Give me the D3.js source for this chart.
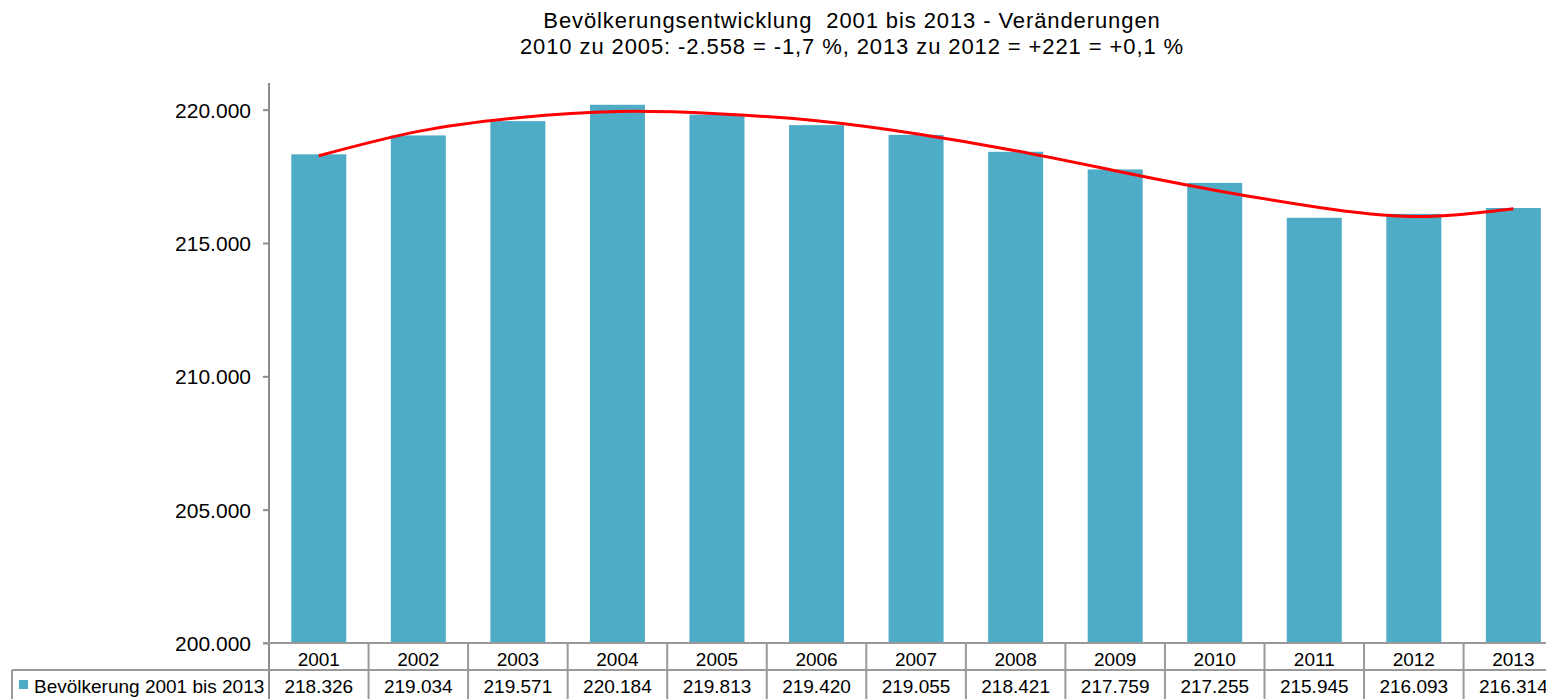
<!DOCTYPE html>
<meta charset="utf-8">
<style>
    body { margin: 0; background: #fff; }
    svg { font-family: "Liberation Sans", Arial, sans-serif; }
    .title text { font-size: 22px; letter-spacing: 0.9px; fill: #000; white-space: pre; }
    .y.axis text { font-size: 21px; fill: #000; }
    .y.axis path, .y.axis line { stroke: #8c8c8c; stroke-width: 2; }
    .bar { fill: #4facc6; }
    .trend { fill: none; stroke: #ff0000; stroke-width: 3; }
    .grid line { stroke: #999; stroke-width: 2; }
    .table text { font-size: 19px; fill: #000; }
</style>
<body>
<script src="https://cdnjs.cloudflare.com/ajax/libs/d3/7.8.5/d3.min.js"></script>
<script>

    var years = ["2001", "2002", "2003", "2004", "2005", "2006", "2007",
                 "2008", "2009", "2010", "2011", "2012", "2013"];
    var population = [218326, 219034, 219571, 220184, 219813, 219420, 219055,
                      218421, 217759, 217255, 215945, 216093, 216314];
    // polynomial trend line at each year
    var trend = [218270, 219185, 219700, 219935, 219850, 219585, 219100,
                 218460, 217710, 216980, 216360, 215995, 216285];
    var yTicks = [200000, 205000, 210000, 215000, 220000];
    var seriesName = "Bevölkerung 2001 bis 2013";
    var titleLines = ["Bevölkerungsentwicklung  2001 bis 2013 - Veränderungen",
                      "2010 zu 2005: -2.558 = -1,7 %, 2013 zu 2012 = +221 = +0,1 %"];

    var W = 1546, H = 699;
    var plot = {left: 269, top: 83, bottom: 643, right: 269 + 13 * 99.55};

    var de = d3.formatLocale({decimal: ",", thousands: ".", grouping: [3], currency: ["", " €"]});
    var fmt = de.format(",d");

    var x = d3.scaleBand()
            .domain(years)
            .range([plot.left, plot.right])
            .paddingInner(0.4475)
            .paddingOuter(0.4475 / 2);

    var y = d3.scaleLinear()
            .domain([200000, 221000])
            .range([plot.bottom, plot.top]);

    var svg = d3.select("body").append("svg")
            .attr("width", W)
            .attr("height", H);

    // title
    svg.append("g")
       .attr("class", "title")
       .selectAll("text")
       .data(titleLines)
       .join("text")
          .attr("x", 852)
          .attr("y", function(d, i) { return 28 + i * 26; })
          .attr("text-anchor", "middle")
          .text(function(d) { return d; });

    // bars
    svg.append("g")
       .selectAll("rect")
       .data(years)
       .join("rect")
          .attr("class", "bar")
          .attr("x", function(d) { return x(d); })
          .attr("y", function(d, i) { return y(population[i]); })
          .attr("width", x.bandwidth())
          .attr("height", function(d, i) { return plot.bottom - y(population[i]); });

    // trend line
    var line = d3.line()
            .x(function(d, i) { return x(years[i]) + x.bandwidth() / 2; })
            .y(function(d) { return y(d); })
            .curve(d3.curveNatural);

    svg.append("path")
       .attr("class", "trend")
       .attr("d", line(trend));

    // y axis
    var yAxis = d3.axisLeft(y)
            .tickValues(yTicks)
            .tickSize(6)
            .tickPadding(12)
            .tickFormat(fmt);

    var yg = svg.append("g")
       .attr("class", "y axis")
       .attr("transform", "translate(" + plot.left + ",0)")
       .call(yAxis);
    yg.select(".domain").attr("d", "M0," + plot.top + "V" + H);
    yg.selectAll(".tick text").attr("dy", "0.36em");

    // data table under the chart
    var rowTop = plot.bottom, rowMid = 670;
    var grid = svg.append("g").attr("class", "grid");

    grid.append("line")
        .attr("x1", plot.left - 6).attr("x2", W)
        .attr("y1", rowTop).attr("y2", rowTop);
    grid.append("line")
        .attr("x1", 12).attr("x2", W)
        .attr("y1", rowMid).attr("y2", rowMid);
    grid.append("line")
        .attr("x1", 12).attr("x2", 12)
        .attr("y1", rowMid).attr("y2", H);
    grid.selectAll(".sep")
        .data(years.slice(1))
        .join("line")
          .attr("class", "sep")
          .attr("x1", function(d) { return x(d) - x.step() * x.paddingInner() / 2; })
          .attr("x2", function(d) { return x(d) - x.step() * x.paddingInner() / 2; })
          .attr("y1", rowTop).attr("y2", H);

    var table = svg.append("g").attr("class", "table");

    table.selectAll(".year")
         .data(years)
         .join("text")
            .attr("class", "year")
            .attr("x", function(d) { return x(d) + x.bandwidth() / 2; })
            .attr("y", 666)
            .attr("text-anchor", "middle")
            .text(function(d) { return d; });

    table.selectAll(".val")
         .data(population)
         .join("text")
            .attr("class", "val")
            .attr("x", function(d, i) { return x(years[i]) + x.bandwidth() / 2; })
            .attr("y", 693)
            .attr("text-anchor", "middle")
            .text(function(d) { return fmt(d); });

    table.append("rect")
         .attr("class", "bar")
         .attr("x", 19).attr("y", 680)
         .attr("width", 9).attr("height", 9);

    table.append("text")
         .attr("x", 34)
         .attr("y", 693)
         .text(seriesName);

</script>
